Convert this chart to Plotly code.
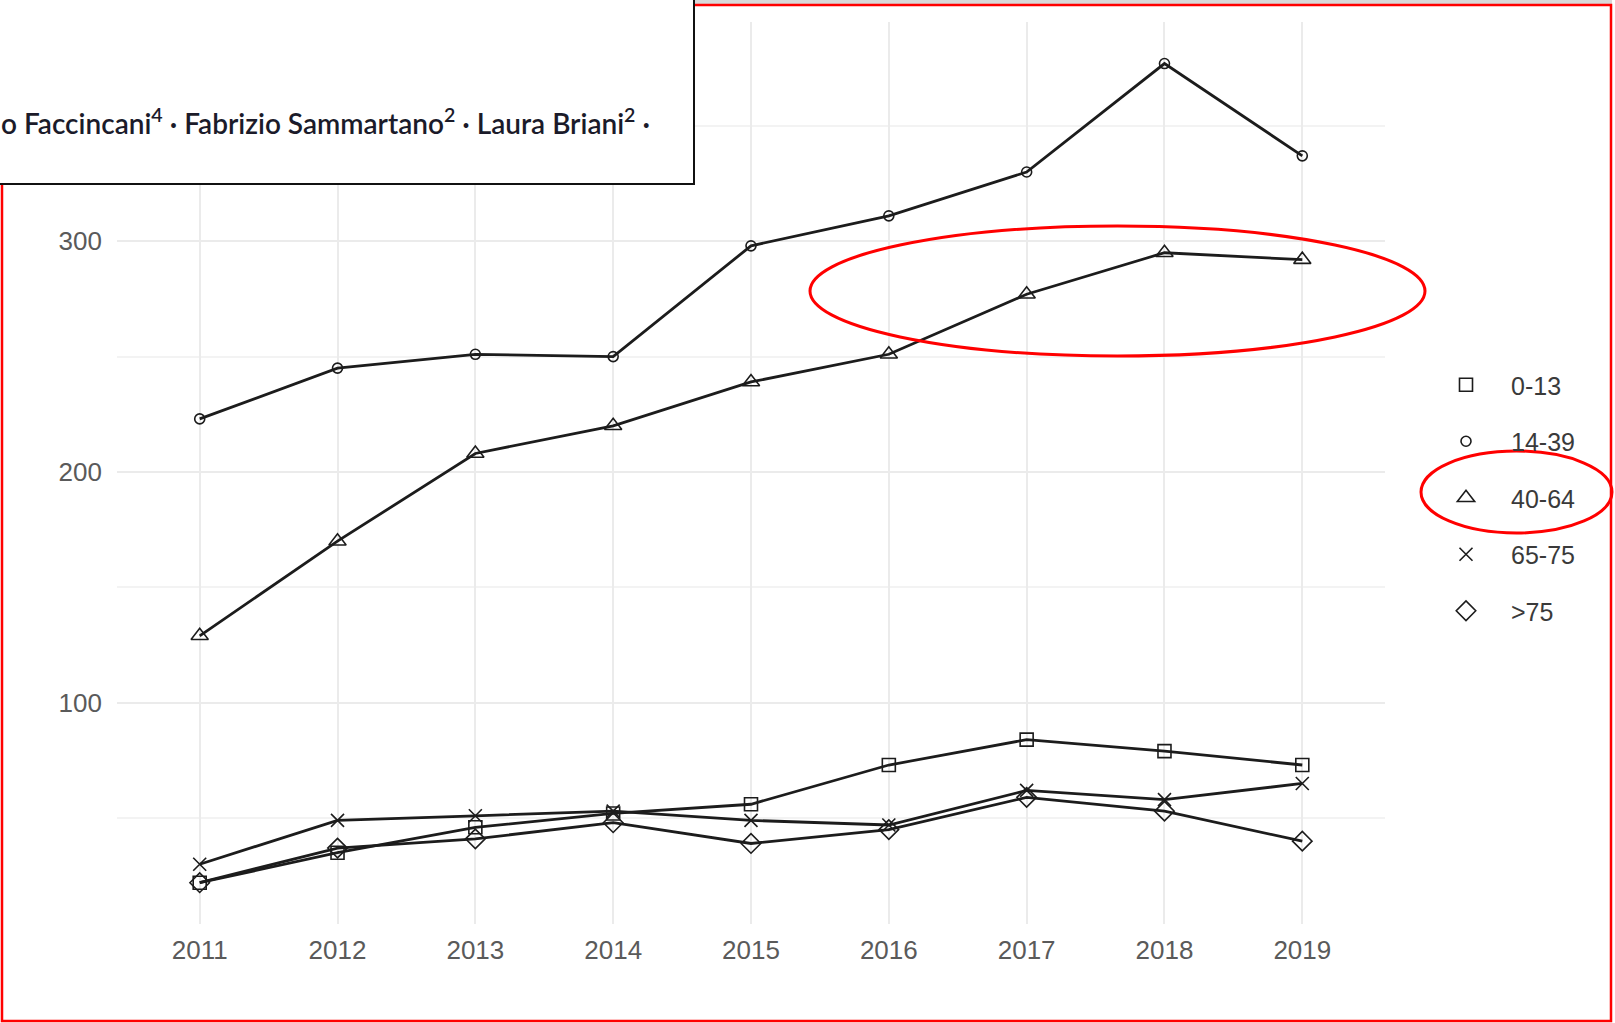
import plotly.graph_objects as go

# Yearly counts by age class
years = [2011, 2012, 2013, 2014, 2015, 2016, 2017, 2018, 2019]
age_0_13 = [22, 35, 46, 52, 56, 73, 84, 79, 73]
age_14_39 = [223, 245, 251, 250, 298, 311, 330, 377, 337]
age_40_64 = [129, 170, 208, 220, 239, 251, 277, 295, 292]
age_65_75 = [30, 49, 51, 53, 49, 47, 62, 58, 65]
age_over_75 = [22, 37, 41, 48, 39, 45, 59, 53, 40]

series_names = ["0-13", "14-39", "40-64", "65-75", ">75"]
y_ticks = [100, 200, 300]

FIG_W, FIG_H = 1615, 1023
PLOT_L, PLOT_R, PLOT_T, PLOT_B = 117, 1385, 22, 924


def xp(px):
    return (px - PLOT_L) / (PLOT_R - PLOT_L)


def yp(py):
    return (PLOT_B - py) / (PLOT_B - PLOT_T)


styles = [
    dict(symbol="square-open", size=13),
    dict(symbol="circle-open", size=10),
    dict(symbol="triangle-up-open", size=15),
    dict(symbol="x-thin-open", size=13),
    dict(symbol="diamond-open", size=15),
]

fig = go.Figure()
for name, vals, st in zip(series_names,
                          [age_0_13, age_14_39, age_40_64, age_65_75, age_over_75],
                          styles):
    # connecting line (kept out of the legend so the key shows only the shape)
    fig.add_trace(go.Scatter(
        x=years, y=vals, name=name, legendgroup=name, showlegend=False,
        mode="lines", line=dict(color="#1c1c1c", width=2.8),
        hoverinfo="skip",
    ))
    fig.add_trace(go.Scatter(
        x=years, y=vals, name=name, legendgroup=name,
        mode="markers",
        marker=dict(symbol=st["symbol"], size=st["size"], color="#1c1c1c",
                    line=dict(color="#1c1c1c", width=1.6)),
    ))

tick_font = dict(family="Liberation Sans, Arial, sans-serif", size=26, color="#5a5a5a")

fig.update_xaxes(
    range=[2010.4, 2019.6], tickmode="array", tickvals=years,
    ticktext=[str(y) for y in years],
    showgrid=True, gridcolor="#ebebeb", gridwidth=2,
    zeroline=False, showline=False, ticks="", tickfont=tick_font,
    ticklabelstandoff=8,
)
fig.update_yaxes(
    range=[4.1, 395], tickmode="array", tickvals=y_ticks,
    showgrid=True, gridcolor="#ebebeb", gridwidth=2,
    minor=dict(tickvals=[50, 150, 250, 350], showgrid=True,
               gridcolor="#f3f3f3", gridwidth=2),
    zeroline=False, showline=False, ticks="", tickfont=tick_font,
    ticklabelstandoff=14,
)

shapes = [
    # highlight around the 40-64 series in recent years
    dict(type="circle", xref="paper", yref="paper",
         x0=xp(810), x1=xp(1425), y0=yp(356), y1=yp(226),
         line=dict(color="#ff0000", width=3), layer="above"),
    # highlight around the 40-64 legend entry
    dict(type="circle", xref="paper", yref="paper",
         x0=xp(1421), x1=xp(1612), y0=yp(533), y1=yp(451),
         line=dict(color="#ff0000", width=3), layer="above"),
    # thin grey strip along the top edge
    dict(type="rect", xref="paper", yref="paper",
         x0=xp(694), x1=xp(1612), y0=yp(4), y1=yp(-2),
         fillcolor="#d9d9d9", line=dict(width=0), layer="above"),
    # outer red frame
    dict(type="rect", xref="paper", yref="paper",
         x0=xp(2), x1=xp(1611), y0=yp(1021), y1=yp(5),
         line=dict(color="#ff0000", width=2.5), layer="above"),
    # header box with author line
    dict(type="rect", xref="paper", yref="paper",
         x0=xp(-10), x1=xp(694), y0=yp(184), y1=yp(-10),
         fillcolor="white", line=dict(color="#111111", width=2), layer="above"),
]

annotations = [
    dict(
        text="o Faccincani<sup>4</sup> · Fabrizio Sammartano<sup>2</sup> · Laura Briani<sup>2</sup> ·",
        xref="paper", yref="paper", x=xp(652), y=yp(122),
        xanchor="right", yanchor="middle", showarrow=False,
        font=dict(family="Lato, Noto Sans, sans-serif", size=28, color="#1b1b2a",
                  weight=600),
    )
]

fig.update_layout(
    width=FIG_W, height=FIG_H,
    margin=dict(l=PLOT_L, r=FIG_W - PLOT_R, t=PLOT_T, b=FIG_H - PLOT_B),
    paper_bgcolor="white", plot_bgcolor="white",
    shapes=shapes, annotations=annotations,
    showlegend=True,
    legend=dict(
        x=xp(1421), y=yp(362), xanchor="left", yanchor="top",
        font=dict(family="Liberation Sans, Arial, sans-serif", size=25, color="#3a3a3a"),
        tracegroupgap=21, itemwidth=80, bgcolor="rgba(0,0,0,0)",
    ),
)

fig.write_html("out.html")
